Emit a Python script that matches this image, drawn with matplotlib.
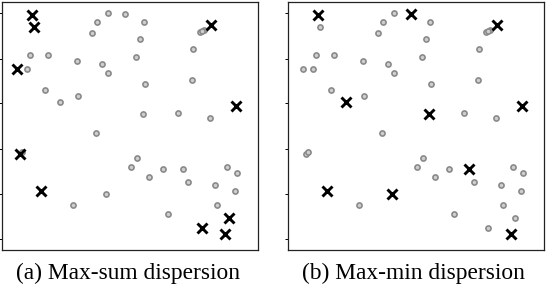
import numpy as np
from matplotlib import pyplot as plt

# point cloud shared by both panels (unit square)
xs = [0.409, 0.474, 0.366, 0.549, 0.345, 0.534, 0.773, 0.786, 0.743, 0.100,
      0.173, 0.286, 0.384, 0.518, 0.091, 0.410, 0.556, 0.740, 0.160, 0.219,
      0.292, 0.548, 0.685, 0.809, 0.361, 0.522, 0.500, 0.624, 0.706, 0.570,
      0.876, 0.917, 0.723, 0.832, 0.911, 0.400, 0.272, 0.840, 0.645, 0.111,
      0.117, 0.813, 0.051, 0.915, 0.060, 0.068, 0.143, 0.884, 0.780, 0.871,
      0.779]
ys = [0.956, 0.953, 0.920, 0.918, 0.874, 0.849, 0.880, 0.887, 0.810, 0.786,
      0.786, 0.762, 0.751, 0.780, 0.730, 0.712, 0.671, 0.687, 0.645, 0.596,
      0.622, 0.549, 0.554, 0.534, 0.471, 0.372, 0.333, 0.327, 0.327, 0.293,
      0.336, 0.309, 0.274, 0.264, 0.236, 0.224, 0.182, 0.182, 0.145, 0.946,
      0.900, 0.908, 0.731, 0.581, 0.387, 0.395, 0.238, 0.129, 0.088, 0.063,
      0.883]

# indices of the selected points
sel_maxsum = [39, 40, 41, 42, 43, 44, 46, 47, 48, 49]
sel_maxmin = [39, 1, 41, 19, 21, 43, 28, 46, 35, 49]

captions = ['(a) Max-sum dispersion', '(b) Max-min dispersion']
yticks = [0.046, 0.226, 0.408, 0.592, 0.772, 0.957]

xs = np.array(xs)
ys = np.array(ys)

fig = plt.figure(figsize=(5.46, 2.92), dpi=100)
boxes = [[2 / 546, 42 / 292, 256 / 546, 248 / 292],
         [288 / 546, 42 / 292, 256 / 546, 248 / 292]]
cap_x = [128 / 546, 413 / 546]

for box, sel, cap, cx in zip(boxes, [sel_maxsum, sel_maxmin], captions, cap_x):
    ax = fig.add_axes(box)
    rest = [i for i in range(len(xs)) if i not in sel]
    ax.plot(xs[rest], ys[rest], 'o', ms=3.7, mew=1.2, mec='#8a8a8a', mfc='#cfcfcf')
    ax.plot(xs[sel], ys[sel], 'x', ms=6.8, mew=2.1, color='black')
    ax.set_xlim(-0.009, 1.0)
    ax.set_ylim(0.0, 1.0)
    ax.set_xticks([])
    ax.set_yticks(yticks)
    ax.set_yticklabels([])
    ax.tick_params(axis='y', length=2, width=0.7, direction='out')
    for sp in ax.spines.values():
        sp.set_linewidth(0.9)
        sp.set_color('#222222')
    fig.text(cx, 0.063, cap, ha='center', va='center',
             family='Liberation Serif', fontsize=16.8)

fig.savefig('out.png', dpi=100)
